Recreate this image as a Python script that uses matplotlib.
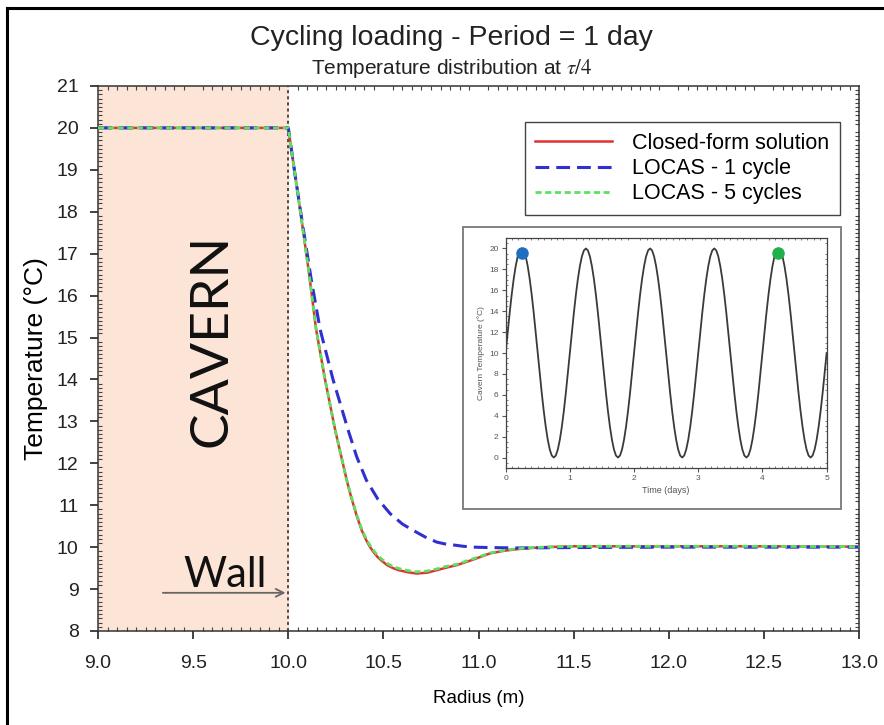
import numpy as np
import matplotlib
matplotlib.use("Agg")
import matplotlib.pyplot as plt
from matplotlib.lines import Line2D
from matplotlib.patches import Rectangle
from matplotlib.ticker import MultipleLocator, FormatStrFormatter

plt.rcParams['font.family'] = ['Liberation Sans', 'DejaVu Sans']
plt.rcParams['mathtext.fontset'] = 'stix'

# radial temperature profiles at t = tau/4
r_closed = [9.0, 10.0, 10.035, 10.07, 10.11, 10.146, 10.193, 10.246, 10.307, 10.33,
            10.36, 10.386, 10.41, 10.43, 10.45, 10.47, 10.495, 10.52, 10.55, 10.58,
            10.63, 10.675, 10.73, 10.78, 10.83, 10.885, 10.97, 11.06, 11.13, 11.2,
            11.28, 11.35, 11.5, 12.0, 12.5, 13.0]
T_closed = [20.0, 20.0, 18.9, 17.8, 16.5, 15.2, 14.0, 12.8, 11.6, 11.2,
            10.74, 10.4, 10.16, 10.0, 9.87, 9.76, 9.66, 9.57, 9.5, 9.45,
            9.40, 9.37, 9.39, 9.45, 9.51, 9.57, 9.70, 9.85, 9.91, 9.95,
            9.98, 10.0, 10.02, 10.02, 10.02, 10.01]

r_locas1 = [9.0, 10.0, 10.035, 10.075, 10.12, 10.167, 10.235, 10.314, 10.36, 10.41,
            10.47, 10.535, 10.6, 10.656, 10.72, 10.78, 10.83, 10.87, 10.92, 10.97,
            11.05, 11.2, 11.5, 12.0, 13.0]
T_locas1 = [20.0, 20.0, 18.9, 17.7, 16.4, 15.2, 14.0, 12.8, 12.15, 11.6,
            11.15, 10.8, 10.55, 10.4, 10.24, 10.12, 10.07, 10.05, 10.02, 10.0,
            9.99, 9.98, 9.99, 10.0, 10.0]

r_locas5 = [9.0, 10.0, 10.035, 10.07, 10.11, 10.146, 10.193, 10.246, 10.307, 10.33,
            10.36, 10.386, 10.41, 10.43, 10.45, 10.47, 10.495, 10.52, 10.55, 10.58,
            10.63, 10.675, 10.73, 10.78, 10.83, 10.885, 10.97, 11.06, 11.13, 11.2,
            11.28, 11.35, 11.5, 12.0, 12.5, 13.0]
T_locas5 = [20.0, 20.0, 18.9, 17.8, 16.5, 15.2, 14.0, 12.8, 11.6, 11.22,
            10.77, 10.43, 10.19, 10.04, 9.91, 9.80, 9.70, 9.61, 9.54, 9.49,
            9.44, 9.41, 9.43, 9.48, 9.54, 9.59, 9.72, 9.86, 9.92, 9.96,
            9.99, 10.0, 10.02, 10.02, 10.02, 10.01]

# cavern temperature over one day, sampled every 1/32 day
cycle_step = 1.0 / 32
cycle_T = [10.0, 11.95, 13.83, 15.56, 17.07, 18.31, 19.24, 19.81,
           20.0, 19.81, 19.24, 18.31, 17.07, 15.56, 13.83, 11.95,
           10.0, 8.05, 6.17, 4.44, 2.93, 1.69, 0.76, 0.19,
           0.0, 0.19, 0.76, 1.69, 2.93, 4.44, 6.17, 8.05]
n_days = 5
cavern_T = np.append(np.tile(cycle_T, n_days), cycle_T[0])
cavern_t = np.arange(len(cavern_T)) * cycle_step
snap_t = [0.25, 4.25]
snap_T = [19.6, 19.6]

fig = plt.figure(figsize=(8.84, 7.25), dpi=100)
ax = fig.add_axes([0.1109, 0.1297, 0.8609, 0.7517])

ax.axvspan(9.0, 10.0, color='#fce4d6', zorder=0)
ax.axvline(10.0, color='#222222', lw=1.1, ls=(0, (2, 2)), zorder=1)

ax.plot(r_closed, T_closed, color='#dd3333', lw=1.8, label='Closed-form solution', zorder=3)
ax.plot(r_locas1, T_locas1, color='#3030d0', lw=2.2, ls=(0, (4.5, 2.3)),
        label='LOCAS - 1 cycle', zorder=4)
ax.plot(r_locas5, T_locas5, color='#5ee05e', lw=2.0, ls=(0, (2.2, 1.3)),
        label='LOCAS - 5 cycles', zorder=5)

ax.set_xlim(9.0, 13.0)
ax.set_ylim(8, 21)
ax.xaxis.set_major_locator(MultipleLocator(0.5))
ax.xaxis.set_minor_locator(MultipleLocator(0.05))
ax.xaxis.set_major_formatter(FormatStrFormatter('%.1f'))
ax.yaxis.set_major_locator(MultipleLocator(1))
ax.yaxis.set_minor_locator(MultipleLocator(0.1))
ax.tick_params(which='major', direction='out', length=6, width=1.2, labelsize=14,
               colors='#222222', pad=8)
ax.tick_params(axis='x', which='major', pad=11)
ax.tick_params(which='minor', direction='in', length=3, width=0.8,
               top=True, right=True, colors='#444444')
for s in ax.spines.values():
    s.set_linewidth(1.1)
    s.set_color('#333333')

ax.set_xlabel('Radius (m)', fontsize=13.5, labelpad=13)
ax.set_ylabel('Temperature (°C)', fontsize=19, labelpad=6)

ax.text(9.6, 14.94, 'CAVERN', rotation=90, ha='center', va='center', fontsize=38.5,
        family=['Lato', 'DejaVu Sans'], color='#111111')
ax.text(9.67, 9.05, 'Wall', ha='center', va='baseline', fontsize=30,
        family=['Lato', 'DejaVu Sans'], color='#111111')
ax.annotate('', xy=(10.0, 8.91), xytext=(9.326, 8.91),
            arrowprops=dict(arrowstyle='->', color='#666666', lw=1.3,
                            mutation_scale=14))

leg = ax.legend(loc='upper right', bbox_to_anchor=(0.950, 0.8317),
                bbox_transform=fig.transFigure, borderaxespad=0, fontsize=15.5,
                handlelength=3.55, handletextpad=0.93, labelspacing=0.2,
                fancybox=False, framealpha=1, borderpad=0.5)
leg.get_frame().set_edgecolor('#444444')
leg.get_frame().set_linewidth(1.0)

fig.text(0.511, 0.947, 'Cycling loading - Period = 1 day', ha='center', va='center',
         fontsize=20.5, color='#222222')
fig.text(0.511, 0.905, r'Temperature distribution at $\tau/4$', ha='center',
         va='center', fontsize=15, color='#222222')

# inset: cavern temperature history
fig.add_artist(Rectangle((0.5238, 0.298), 0.4276, 0.389, transform=fig.transFigure,
                         facecolor='white', edgecolor='#777777', lw=1.3, zorder=1.5))
ins = fig.add_axes([0.572, 0.3545, 0.3631, 0.3172], zorder=2)
ins.plot(cavern_t, cavern_T, color='#3a3a3a', lw=1.3)
ins.plot(snap_t[0], snap_T[0], 'o', color='#1f6fc0', ms=8)
ins.plot(snap_t[1], snap_T[1], 'o', color='#22b04a', ms=8)
ins.set_xlim(0, 5)
ins.set_ylim(-1, 21)
ins.xaxis.set_major_locator(MultipleLocator(1))
ins.yaxis.set_major_locator(MultipleLocator(2))
ins.xaxis.set_minor_locator(MultipleLocator(0.1))
ins.yaxis.set_minor_locator(MultipleLocator(0.5))
ins.tick_params(which='major', direction='out', length=3, width=0.8, labelsize=6,
                colors='#555555', pad=2)
ins.tick_params(which='minor', direction='in', length=1.5, width=0.6,
                top=True, right=True, colors='#666666')
for s in ins.spines.values():
    s.set_linewidth(0.9)
    s.set_color('#444444')
ins.set_xlabel('Time (days)', fontsize=6.5, color='#555555', labelpad=3)
ins.set_ylabel('Cavern Temperature (°C)', fontsize=6, color='#555555', labelpad=3)

# outer frame edges
fig.add_artist(Line2D([0.0075, 0.0075], [0.0, 0.9895], transform=fig.transFigure,
                      color='black', lw=2.2, zorder=10))
fig.add_artist(Line2D([0.0075, 1.0], [0.9895, 0.9895], transform=fig.transFigure,
                      color='black', lw=2.2, zorder=10))

fig.savefig('out.png', dpi=100)
